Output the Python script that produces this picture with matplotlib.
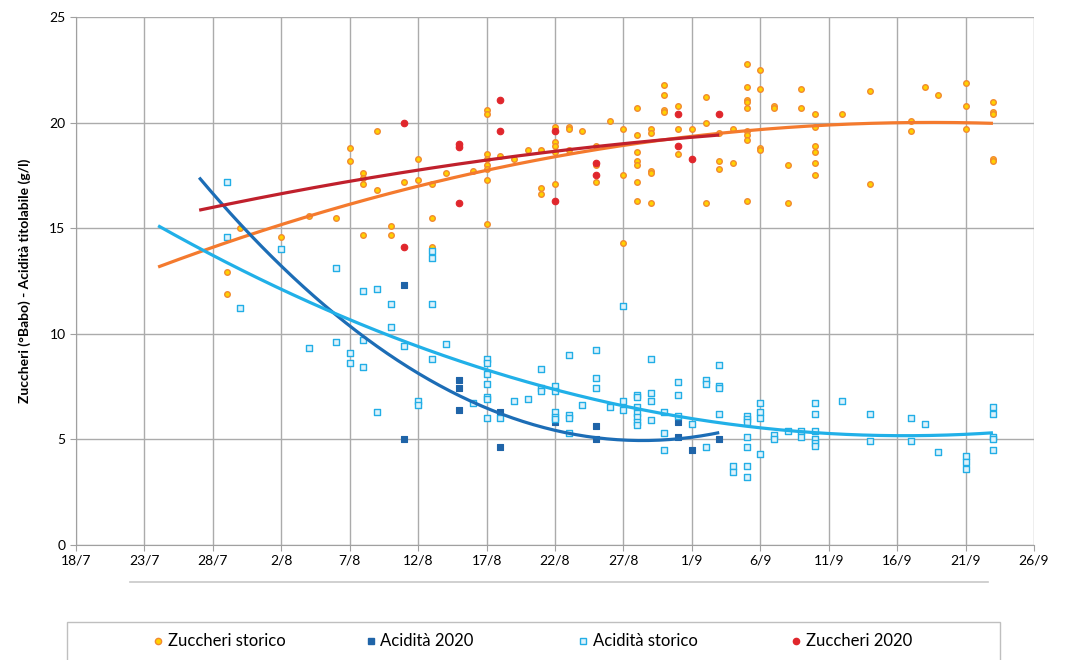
import numpy as np
import pandas as pd
import matplotlib
matplotlib.use("Agg")
import matplotlib.pyplot as plt
import matplotlib.dates as mdates
from matplotlib.lines import Line2D
from matplotlib.patches import Rectangle

plt.rcParams['font.family'] = ['Lato', 'DejaVu Sans']

ANNO = 2020

# Zuccheri storico (°Babo): data di prelievo -> valori misurati
zs_giorni = ["29/7", "30/7", "2/8", "4/8", "6/8", "7/8", "8/8", "9/8", "10/8", "11/8",
             "12/8", "13/8", "14/8", "16/8", "17/8", "18/8", "19/8", "20/8", "21/8", "22/8",
             "23/8", "24/8", "25/8", "26/8", "27/8", "28/8", "29/8", "30/8", "31/8", "1/9",
             "2/9", "3/9", "4/9", "5/9", "6/9", "7/9", "8/9", "9/9", "10/9", "12/9",
             "14/9", "17/9", "18/9", "19/9", "21/9", "23/9"]
zs_valori = [[12.9, 11.9], [15.0], [14.6], [15.6], [15.5], [18.8, 18.2],
             [17.6, 17.4, 17.1, 14.7], [19.6, 16.8], [15.1, 14.7], [17.2],
             [18.3, 17.3], [17.1, 15.5, 14.1], [17.6], [17.7],
             [20.6, 20.4, 18.5, 18.3, 18.0, 17.8, 17.3, 15.2], [18.4], [18.3], [18.7],
             [18.7, 16.9, 16.6], [19.8, 19.1, 18.9, 18.6, 17.1],
             [19.8, 19.7, 18.7], [19.6], [18.9, 18.0, 17.2], [20.1], [19.7, 17.5, 14.3],
             [20.7, 19.4, 18.6, 18.2, 18.0, 17.2, 16.3], [19.7, 19.5, 17.7, 17.6, 16.2],
             [21.8, 21.3, 20.6, 20.5], [20.8, 19.7, 18.5], [19.7],
             [21.2, 20.0, 16.2], [19.5, 18.2, 17.8], [19.7, 18.1],
             [22.8, 21.7, 21.1, 21.0, 20.7, 19.6, 19.4, 19.2, 16.3], [22.5, 21.6, 18.8, 18.7],
             [20.8, 20.7], [18.0, 16.2], [21.6, 20.7], [20.4, 19.8, 18.9, 18.6, 18.1, 17.5],
             [20.4], [21.5, 17.1], [20.1, 19.6], [21.7], [21.3], [21.9, 20.8, 19.7],
             [21.0, 20.5, 20.4, 18.3, 18.2]]

# Acidità titolabile storico (g/l)
as_giorni = ["29/7", "30/7", "2/8", "4/8", "6/8", "7/8", "8/8", "9/8", "10/8", "11/8",
             "12/8", "13/8", "14/8", "16/8", "17/8", "18/8", "19/8", "20/8", "21/8", "22/8",
             "23/8", "24/8", "25/8", "26/8", "27/8", "28/8", "29/8", "30/8", "31/8", "1/9",
             "2/9", "3/9", "4/9", "5/9", "6/9", "7/9", "8/9", "9/9", "10/9", "12/9",
             "14/9", "17/9", "18/9", "19/9", "21/9", "23/9"]
as_valori = [[17.2, 14.6], [11.2], [14.0], [9.3], [13.1, 9.6], [9.1, 8.6],
             [12.0, 9.7, 8.4], [12.1, 6.3], [11.4, 10.3], [9.4],
             [6.8, 6.6], [13.9, 13.6, 11.4, 8.8], [9.5], [6.7],
             [8.8, 8.6, 8.1, 7.6, 7.0, 6.9, 6.0], [6.0], [6.8], [6.9],
             [8.3, 7.4, 7.26], [7.5, 7.3, 6.3, 6.03, 5.93],
             [9.0, 6.12, 6.0, 5.3], [6.6], [9.2, 7.9, 7.4], [6.5], [11.3, 6.8, 6.4],
             [7.1, 6.98, 6.5, 6.22, 6.06, 5.82, 5.66], [8.8, 7.2, 6.8, 5.9],
             [6.3, 5.3, 4.5], [7.7, 7.1, 6.1], [5.7],
             [7.8, 7.6, 4.6], [8.5, 7.5, 7.4, 6.2], [3.7, 3.45],
             [6.1, 5.93, 5.8, 5.1, 4.6, 3.7, 3.2], [6.7, 6.3, 6.0, 4.3],
             [5.2, 5.0], [5.4], [5.4, 5.1], [6.7, 6.2, 5.4, 5.0, 4.8, 4.67],
             [6.8], [6.2, 4.9], [6.0, 4.9], [5.7], [4.4], [4.2, 3.9, 3.6],
             [6.5, 6.2, 5.1, 5.0, 4.5]]

# Annata 2020
a20_giorni = ["11/8", "15/8", "18/8", "22/8", "25/8", "31/8", "1/9", "3/9"]
a20_valori = [[12.3, 5.0], [7.8, 7.4, 6.4], [6.3, 4.6], [5.8], [5.6, 5.0],
              [5.8, 5.1], [4.5], [5.0]]
z20_giorni = ["11/8", "15/8", "18/8", "22/8", "25/8", "31/8", "1/9", "3/9"]
z20_valori = [[20.0, 14.1], [19.0, 18.85, 16.2], [21.1, 19.6], [19.6, 16.3],
              [18.1, 17.5], [20.4, 18.9], [18.3], [20.4]]

# intervallo delle linee di tendenza (polinomiali di 2° grado)
trend_storico = ("24/7", "23/9")
trend_2020 = ("27/7", "3/9")


def data(g):
    return pd.to_datetime(f"{g}/{ANNO}", format="%d/%m/%Y")


def espandi(giorni, valori):
    x, y = [], []
    for g, vals in zip(giorni, valori):
        for v in vals:
            x.append(data(g))
            y.append(v)
    return mdates.date2num(x), np.array(y)


def tendenza(ax, x, y, periodo, colore):
    coef = np.polyfit(x, y, 2)
    xs = np.linspace(mdates.date2num(data(periodo[0])), mdates.date2num(data(periodo[1])), 200)
    ax.plot(xs, np.polyval(coef, xs), color=colore, lw=2.3, zorder=4, solid_capstyle='butt')


fig = plt.figure(figsize=(10.78, 6.6), dpi=100)
ax = fig.add_axes([0.0705, 0.175, 0.8887, 0.7988])

x_zs, y_zs = espandi(zs_giorni, zs_valori)
x_as, y_as = espandi(as_giorni, as_valori)
x_a20, y_a20 = espandi(a20_giorni, a20_valori)
x_z20, y_z20 = espandi(z20_giorni, z20_valori)

ax.scatter(x_zs, y_zs, marker='o', s=16, facecolor='#FFD200', edgecolor='#F28A30', lw=1.0, zorder=3)
ax.scatter(x_a20, y_a20, marker='s', s=22, facecolor='#1F64A8', edgecolor='#1F64A8', lw=0.8, zorder=3)
ax.scatter(x_as, y_as, marker='s', s=18, facecolor='#DDF2FB', edgecolor='#22AEE6', lw=1.0, zorder=3)
ax.scatter(x_z20, y_z20, marker='o', s=22, facecolor='#E0262C', edgecolor='#E0262C', lw=0.8, zorder=3)

tendenza(ax, x_zs, y_zs, trend_storico, '#F47A2E')
tendenza(ax, x_a20, y_a20, trend_2020, '#1C6DB6')
tendenza(ax, x_as, y_as, trend_storico, '#21B0E8')
tendenza(ax, x_z20, y_z20, trend_2020, '#C0202C')

# assi
tick_date = pd.date_range(f"{ANNO}-07-18", f"{ANNO}-09-26", freq="5D")
ax.set_xlim(mdates.date2num(tick_date[0]), mdates.date2num(tick_date[-1]))
ax.set_xticks(mdates.date2num(tick_date))
ax.set_xticklabels([f"{d.day}/{d.month}" for d in tick_date])
ax.set_ylim(0, 25)
ax.set_yticks(range(0, 26, 5))
ax.grid(True, color='#ABABAB', lw=1.0)
ax.set_axisbelow(True)
for s in ['top', 'right']:
    ax.spines[s].set_visible(False)
for s in ['left', 'bottom']:
    ax.spines[s].set_color('#A0A0A0')
ax.tick_params(axis='both', direction='out', length=4, color='#A0A0A0', labelsize=10, colors='#000000')
ax.tick_params(axis='both', color='#A0A0A0')
ax.set_ylabel("Zuccheri (°Babo) - Acidità titolabile (g/l)", fontsize=10, fontweight='bold')
ax.yaxis.set_label_coords(-0.047, 0.5)

# riga grigia sotto le etichette
fig.add_artist(Line2D([130 / 1078, 988 / 1078], [1 - 582 / 660] * 2, color='#C8C8C8', lw=1.2))

# legenda
fig.add_artist(Rectangle((67 / 1078, -0.01), (1000 - 67) / 1078, 0.01 + 38 / 660,
                         transform=fig.transFigure, fill=False, edgecolor='#BFBFBF', lw=1.0))
voci = [("Zuccheri storico", 'o', '#FFD200', '#F28A30'),
        ("Acidità 2020", 's', '#1F64A8', '#1F64A8'),
        ("Acidità storico", 's', '#DDF2FB', '#22AEE6'),
        ("Zuccheri 2020", 'o', '#E0262C', '#E0262C')]
y_leg = 1 - 641 / 660
for i, (testo, m, fc, ec) in enumerate(voci):
    x0 = (158 + i * 212.5) / 1078
    fig.add_artist(Line2D([x0], [y_leg], marker=m, markersize=4.5, markerfacecolor=fc,
                          markeredgecolor=ec, markeredgewidth=1.0, linestyle='none'))
    fig.text(x0 + 10 / 1078, y_leg, testo, fontsize=12, va='center', ha='left')

fig.savefig("out.png", dpi=100)
